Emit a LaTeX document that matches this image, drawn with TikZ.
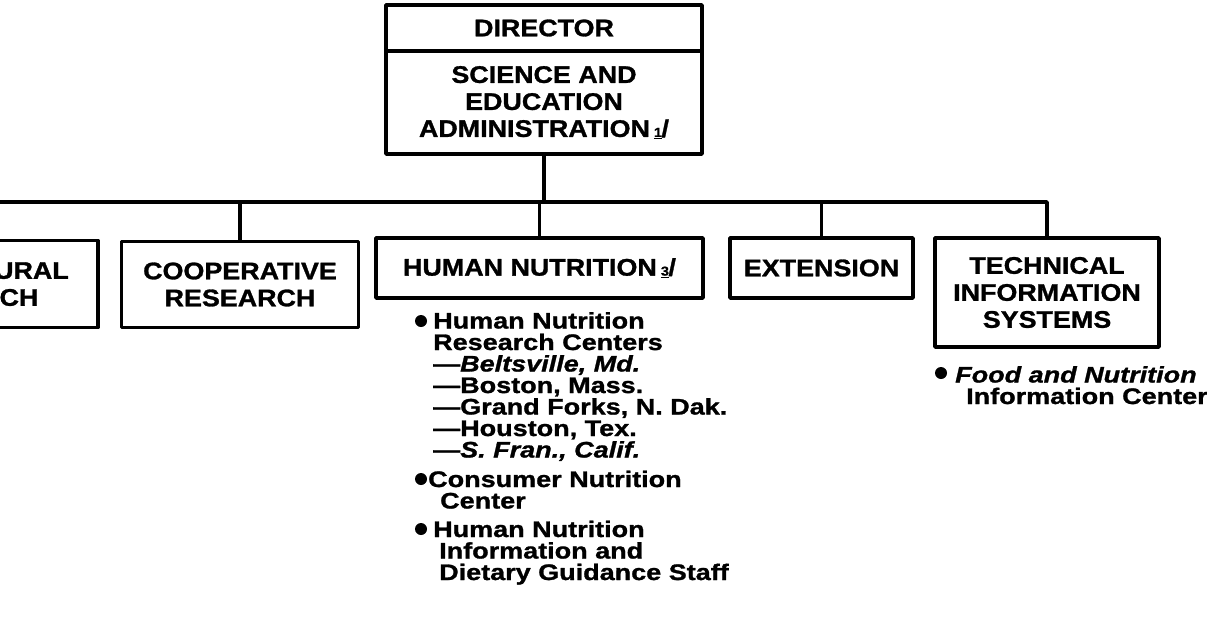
\documentclass[tikz,border=0pt]{standalone}
\usepackage{fontspec}
\setmainfont{Liberation Sans}[FakeStretch=1.12, FakeBold=1.2]
\newfontfamily\listfamily{Liberation Sans}[FakeStretch=1.2, FakeBold=1.2]

\newcommand{\boxfont}{\bfseries\fontsize{24}{27}\selectfont}
\newcommand{\listfont}{\listfamily\bfseries\fontsize{22.5}{21.5}\selectfont\lineskiplimit=-30pt}
\newcommand{\fnmark}[1]{\,\underline{\fontsize{13}{13}\selectfont #1}\kern-0.5pt/}

\tikzset{
  unit/.style={draw, line width=3.5pt, inner sep=0pt, align=center, font=\boxfont},
  dot/.style={circle, fill, inner sep=0pt, minimum size=12pt},
  listtext/.style={inner sep=0pt, anchor=north west, align=left, font=\listfont},
  link/.style={line width=3.5pt},
}

\begin{document}
\begin{tikzpicture}[x=1pt, y=-1pt, line join=round]
    \useasboundingbox (0,0) rectangle (1207,619);
    \clip (0,0) rectangle (1207,619);
    % top of the chart
    \node[unit, minimum width=316, minimum height=46] (director) at (544,28) {DIRECTOR};
    \node[unit, minimum width=316, minimum height=103] (sea) at (544,102.5)
        {SCIENCE AND\\EDUCATION\\ADMINISTRATION\fnmark{1}};
    % the units
    \node[unit, minimum width=270, minimum height=87] (agri) at (-37,284) {AGRICULTURAL\\RESEARCH};
    \node[unit, minimum width=237, minimum height=86] (coop) at (240,284.5) {COOPERATIVE\\RESEARCH};
    \node[unit, minimum width=327, minimum height=60] (hn) at (539.5,268) {HUMAN NUTRITION\fnmark{3}};
    \node[unit, minimum width=183, minimum height=60] (ext) at (821.5,268) {EXTENSION};
    \node[unit, minimum width=224, minimum height=109] (tis) at (1047,292.5)
        {TECHNICAL\\INFORMATION\\SYSTEMS};
    % connectors
    \coordinate (bus) at (0,202);
    \draw[link] (agri.north) |- (tis.north |- bus) -- (tis.north);
    \foreach \u in {coop, hn, ext}
        \draw[link] (\u.north) -- (\u.north |- bus);
    \draw[link] (sea.south) -- (sea.south |- bus);
    % lists under the boxes
    \node[dot] (b1) at (421,321) {};
    \node[listtext] (hnrc) at (433,312) {Human Nutrition\\Research Centers\\—{\itshape Beltsville, Md.}\\—Boston, Mass.\\—Grand Forks, N. Dak.\\—Houston, Tex.\\—{\itshape S. Fran., Calif.}};
    \node[dot] (b2) at (421,479) {};
    \node[listtext] (cnc) at (428,470.5) {Consumer Nutrition\\\hspace*{12pt}Center};
    \node[dot] (b3) at (421,529) {};
    \node[listtext] (hnis) at (433,520.5) {Human Nutrition\\\hspace*{6pt}Information and\\\hspace*{6pt}Dietary Guidance Staff};
    \node[dot] (b4) at (941,373) {};
    \node[listtext] (fnic) at (955,366) {{\itshape Food and Nutrition}\\\hspace*{11pt}Information Center};
\end{tikzpicture}
\end{document}
